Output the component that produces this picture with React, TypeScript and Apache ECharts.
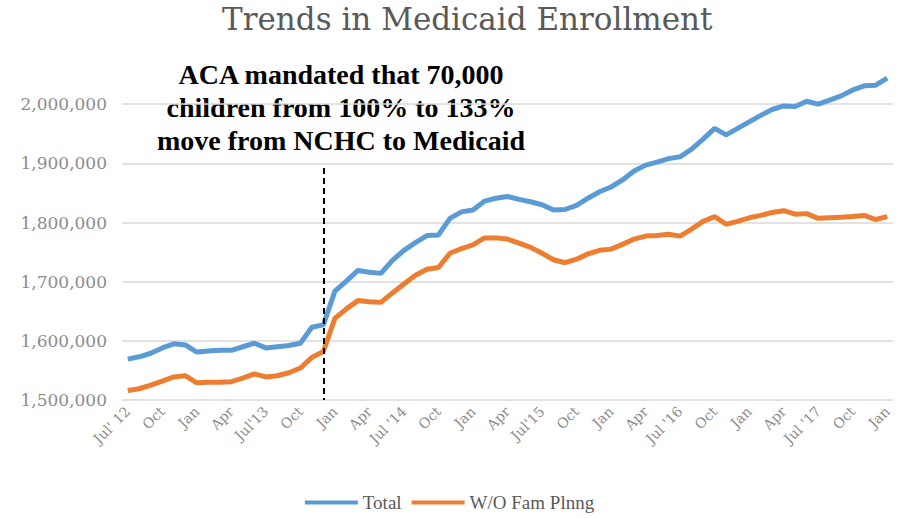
import React, { useEffect, useRef } from "react";
import * as echarts from "echarts";

const months: string[] = [
  "Jul' 12", "Aug", "Sep", "Oct", "Nov", "Dec",
  "Jan", "Feb", "Mar", "Apr", "May", "Jun", "Jul'13", "Aug", "Sep", "Oct", "Nov", "Dec",
  "Jan", "Feb", "Mar", "Apr", "May", "Jun", "Jul '14", "Aug", "Sep", "Oct", "Nov", "Dec",
  "Jan", "Feb", "Mar", "Apr", "May", "Jun", "Jul'15", "Aug", "Sep", "Oct", "Nov", "Dec",
  "Jan", "Feb", "Mar", "Apr", "May", "Jun", "Jul '16", "Aug", "Sep", "Oct", "Nov", "Dec",
  "Jan", "Feb", "Mar", "Apr", "May", "Jun", "Jul '17", "Aug", "Sep", "Oct", "Nov", "Dec",
  "Jan",
];

const total: number[] = [
  1569000, 1573000, 1579000, 1588000, 1595000, 1593000,
  1581000, 1583000, 1584000, 1584000, 1590000, 1596000, 1588000, 1590000, 1592000, 1596000, 1623000, 1627000,
  1684000, 1701000, 1719000, 1716000, 1714000, 1736000, 1753000, 1766000, 1778000, 1779000, 1807000, 1818000,
  1821000, 1836000, 1841000, 1844000, 1839000, 1835000, 1830000, 1821000, 1822000, 1829000, 1841000, 1852000,
  1860000, 1872000, 1887000, 1897000, 1902000, 1908000, 1911000, 1924000, 1941000, 1959000, 1948000, 1959000,
  1970000, 1981000, 1991000, 1997000, 1996000, 2005000, 2000000, 2007000, 2014000, 2024000, 2031000, 2032000,
  2044000,
];

const withoutFamPlng: number[] = [
  1516000, 1519000, 1525000, 1532000, 1539000, 1541000,
  1529000, 1530000, 1530000, 1531000, 1537000, 1544000, 1539000, 1541000, 1546000, 1554000, 1572000, 1582000,
  1638000, 1654000, 1668000, 1666000, 1665000, 1681000, 1696000, 1711000, 1721000, 1724000, 1748000, 1756000,
  1762000, 1774000, 1774000, 1772000, 1765000, 1758000, 1748000, 1737000, 1732000, 1738000, 1747000, 1753000,
  1755000, 1763000, 1772000, 1777000, 1778000, 1780000, 1777000, 1789000, 1802000, 1810000, 1797000, 1802000,
  1808000, 1812000, 1817000, 1820000, 1814000, 1815000, 1807000, 1808000, 1809000, 1810000, 1812000, 1805000,
  1810000,
];

const seriesNames: string[] = ["Total", "W/O Fam Plnng"];
const titleText = "Trends in Medicaid Enrollment";
const annotationLines: string[] = [
  "ACA mandated that 70,000",
  "children from 100% to 133%",
  "move from NCHC to Medicaid",
];
const markerIndex = 17;
const markerTop = 1892000;

const SERIF = "'Liberation Serif', 'Times New Roman', serif";
const WIDE_SERIF = "'DejaVu Serif', serif";

export default function App() {
  const ref = useRef<HTMLDivElement>(null);
  useEffect(() => {
    if (!ref.current) return;
    const chart = echarts.init(ref.current, undefined, { renderer: "svg" });
    chart.setOption({
      animation: false,
      backgroundColor: "#ffffff",
      title: {
        text: titleText,
        left: 222,
        top: 3,
        padding: 0,
        textStyle: { fontFamily: WIDE_SERIF, fontWeight: "normal", fontSize: 31, color: "#595959" },
      },
      legend: {
        bottom: 1,
        left: "center",
        icon: "rect",
        itemWidth: 53,
        itemHeight: 4,
        itemGap: 10,
        textStyle: { fontFamily: SERIF, fontSize: 19, color: "#595959" },
        data: seriesNames,
      },
      grid: { left: 122, right: 6, top: 45, bottom: 118, containLabel: false },
      xAxis: {
        type: "category",
        data: months,
        boundaryGap: true,
        axisLine: { show: false },
        axisTick: { show: false },
        axisLabel: {
          interval: 2,
          rotate: 45,
          margin: 9,
          fontFamily: WIDE_SERIF,
          fontSize: 14,
          color: "#8c8c8c",
        },
        splitLine: { show: false },
      },
      yAxis: {
        type: "value",
        min: 1500000,
        max: 2100000,
        interval: 100000,
        axisLine: { show: false },
        axisTick: { show: false },
        axisLabel: {
          margin: 15,
          fontFamily: WIDE_SERIF,
          fontSize: 17,
          color: "#8c8c8c",
          formatter: (v: number) => (v > 2000000 ? "" : v.toLocaleString("en-US")),
        },
        splitLine: {
          show: true,
          lineStyle: {
            color: ["#d9d9d9", "#d9d9d9", "#d9d9d9", "#d9d9d9", "#d9d9d9", "#d9d9d9", "rgba(0,0,0,0)"],
            width: 1.5,
          },
        },
      },
      graphic: [
        {
          type: "text",
          x: 341,
          y: 58,
          style: {
            text: annotationLines.join("\n"),
            font: `bold 28px ${SERIF}`,
            fill: "#000000",
            align: "center",
            verticalAlign: "top",
            lineHeight: 33,
          },
        },
      ],
      series: [
        {
          name: seriesNames[0],
          type: "line",
          data: total,
          showSymbol: false,
          symbol: "none",
          lineStyle: { color: "#5B9BD5", width: 5 },
          itemStyle: { color: "#5B9BD5" },
          z: 3,
          markLine: {
            silent: true,
            symbol: "none",
            label: { show: false },
            lineStyle: { color: "#000000", type: [6, 4], width: 2 },
            data: [[{ coord: [markerIndex, markerTop] }, { coord: [markerIndex, 1500000] }]],
          },
        },
        {
          name: seriesNames[1],
          type: "line",
          data: withoutFamPlng,
          showSymbol: false,
          symbol: "none",
          lineStyle: { color: "#ED7D31", width: 5 },
          itemStyle: { color: "#ED7D31" },
          z: 2,
        },
      ],
    });
    return () => chart.dispose();
  }, []);
  return (
    <div
      ref={ref}
      style={{ position: "fixed", left: 0, top: 0, width: 899, height: 518 }}
    />
  );
}
